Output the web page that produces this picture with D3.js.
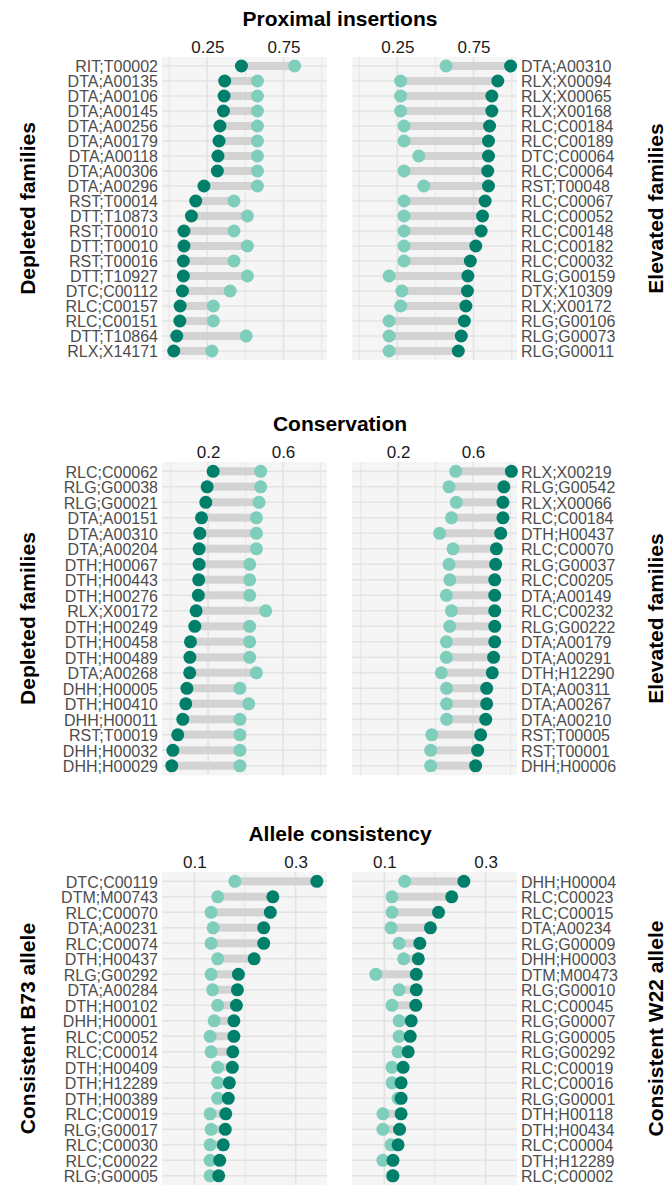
<!DOCTYPE html>
<html><head><meta charset="utf-8">
<script src="https://cdn.jsdelivr.net/npm/d3@7"></script>
<style>body{margin:0;background:#fff} svg{display:block}</style>
</head><body><svg id="c" width="668" height="1187"></svg>
<script>
// ---------- Proximal insertions ----------
const proxDepletedLabels = ["RIT;T00002","DTA;A00135","DTA;A00106","DTA;A00145","DTA;A00256","DTA;A00179","DTA;A00118","DTA;A00306","DTA;A00296","RST;T00014","DTT;T10873","RST;T00010","DTT;T00010","RST;T00016","DTT;T10927","DTC;C00112","RLC;C00157","RLC;C00151","DTT;T10864","RLX;X14171"];
const proxDepletedDark  = [0.474,0.364,0.360,0.356,0.333,0.327,0.320,0.316,0.228,0.174,0.146,0.097,0.097,0.093,0.093,0.087,0.072,0.070,0.050,0.030];
const proxDepletedLight = [0.823,0.579,0.579,0.579,0.579,0.579,0.579,0.579,0.579,0.425,0.513,0.425,0.513,0.425,0.513,0.400,0.290,0.290,0.505,0.280];
const proxElevatedLabels = ["DTA;A00310","RLX;X00094","RLX;X00065","RLX;X00168","RLC;C00184","RLC;C00189","DTC;C00064","RLC;C00064","RST;T00048","RLC;C00067","RLC;C00052","RLC;C00148","RLC;C00182","RLC;C00032","RLG;G00159","DTX;X10309","RLX;X00172","RLG;G00106","RLG;G00073","RLG;G00011"];
const proxElevatedDark  = [0.993,0.909,0.870,0.870,0.855,0.848,0.848,0.843,0.848,0.826,0.809,0.800,0.765,0.729,0.713,0.710,0.700,0.690,0.670,0.650];
const proxElevatedLight = [0.570,0.272,0.272,0.272,0.294,0.294,0.391,0.294,0.424,0.294,0.294,0.294,0.294,0.294,0.196,0.280,0.272,0.196,0.196,0.196];
const proxTicks = [0.25, 0.75];
const proxMinor = [0, 0.5, 1.0];

// ---------- Conservation ----------
const consDepletedLabels = ["RLC;C00062","RLG;G00038","RLG;G00021","DTA;A00151","DTA;A00310","DTA;A00204","DTH;H00067","DTH;H00443","DTH;H00276","RLX;X00172","DTH;H00249","DTH;H00458","DTH;H00489","DTA;A00268","DHH;H00005","DTH;H00410","DHH;H00011","RST;T00019","DHH;H00032","DHH;H00029"];
const consDepletedDark  = [0.227,0.195,0.188,0.165,0.156,0.152,0.152,0.150,0.148,0.136,0.129,0.106,0.103,0.102,0.087,0.081,0.065,0.038,0.012,0.006];
const consDepletedLight = [0.481,0.481,0.472,0.458,0.458,0.458,0.422,0.422,0.422,0.508,0.422,0.422,0.422,0.458,0.370,0.417,0.370,0.370,0.370,0.370];
const consElevatedLabels = ["RLX;X00219","RLG;G00542","RLX;X00066","RLC;C00184","DTH;H00437","RLC;C00070","RLG;G00037","RLC;C00205","DTA;A00149","RLC;C00232","RLG;G00222","DTA;A00179","DTA;A00291","DTH;H12290","DTA;A00311","DTA;A00267","DTA;A00210","RST;T00005","RST;T00001","DHH;H00006"];
const consElevatedDark  = [0.805,0.765,0.760,0.760,0.748,0.725,0.721,0.716,0.716,0.716,0.716,0.716,0.710,0.703,0.673,0.673,0.668,0.641,0.625,0.614];
const consElevatedLight = [0.508,0.472,0.511,0.485,0.422,0.493,0.472,0.476,0.458,0.485,0.476,0.458,0.458,0.431,0.459,0.459,0.459,0.380,0.374,0.374];
const consTicks = [0.2, 0.6];
const consMinor = [0, 0.4, 0.8];

// ---------- Allele consistency ----------
const alleleB73Labels = ["DTC;C00119","DTM;M00743","RLC;C00070","DTA;A00231","RLC;C00074","DTH;H00437","RLG;G00292","DTA;A00284","DTH;H00102","DHH;H00001","RLC;C00052","RLC;C00014","DTH;H00409","DTH;H12289","DTH;H00389","RLC;C00019","RLG;G00017","RLC;C00030","RLC;C00022","RLG;G00005"];
const alleleB73Dark  = [0.342,0.255,0.250,0.237,0.237,0.218,0.187,0.185,0.183,0.178,0.178,0.176,0.175,0.169,0.167,0.162,0.161,0.157,0.150,0.148];
const alleleB73Light = [0.180,0.146,0.133,0.137,0.133,0.146,0.133,0.136,0.146,0.139,0.131,0.133,0.146,0.146,0.146,0.131,0.133,0.131,0.131,0.131];
const alleleW22Labels = ["DHH;H00004","RLC;C00023","RLC;C00015","DTA;A00234","RLG;G00009","DHH;H00003","DTM;M00473","RLG;G00010","RLC;C00045","RLG;G00007","RLG;G00005","RLG;G00292","RLC;C00019","RLC;C00016","RLG;G00001","DTH;H00118","DTH;H00434","RLC;C00004","DTH;H12289","RLC;C00002"];
const alleleW22Dark  = [0.257,0.233,0.207,0.191,0.170,0.167,0.163,0.163,0.162,0.153,0.151,0.147,0.137,0.133,0.133,0.133,0.130,0.127,0.117,0.117];
const alleleW22Light = [0.140,0.115,0.115,0.113,0.129,0.138,0.083,0.129,0.115,0.129,0.129,0.127,0.115,0.115,0.127,0.097,0.097,0.113,0.097,0.115];
const alleleTicks = [0.1, 0.3];
const alleleMinor = [0.2];

const sections = [
  {title:"Proximal insertions", top:0, step:15.0, domain:[-0.047,1.035], ticks:proxTicks, minor:proxMinor, fmt:d3.format(".2f"),
   leftTitle:"Depleted families", rightTitle:"Elevated families",
   left:{labels:proxDepletedLabels, dark:proxDepletedDark, light:proxDepletedLight},
   right:{labels:proxElevatedLabels, dark:proxElevatedDark, light:proxElevatedLight}},
  {title:"Conservation", top:405, step:15.5, domain:[-0.046,0.835], ticks:consTicks, minor:consMinor, fmt:d3.format(".1f"),
   leftTitle:"Depleted families", rightTitle:"Elevated families",
   left:{labels:consDepletedLabels, dark:consDepletedDark, light:consDepletedLight},
   right:{labels:consElevatedLabels, dark:consElevatedDark, light:consElevatedLight}},
  {title:"Allele consistency", top:815, step:15.5, domain:[0.036,0.362], ticks:alleleTicks, minor:alleleMinor, fmt:d3.format(".1f"),
   leftTitle:"Consistent B73 allele", rightTitle:"Consistent W22 allele",
   left:{labels:alleleB73Labels, dark:alleleB73Dark, light:alleleB73Light},
   right:{labels:alleleW22Labels, dark:alleleW22Dark, light:alleleW22Light}}
];

const svg = d3.select("#c");
const FONT = "'Liberation Sans', Arial, Helvetica, sans-serif";
const DARK = "#00806b", LIGHT = "#7fcdbb", SEG = "#d3d3d3";
const panelW = 165;
const leftX = 162, rightX = 352;

sections.forEach(sec => {
  const g = svg.append("g");
  const panelTop = sec.top + 57;
  const panelH = sec.step * 20.2;
  // title
  g.append("text").attr("x", 340).attr("y", sec.top + 26)
    .attr("text-anchor","middle").attr("font-family",FONT).attr("font-weight","bold")
    .attr("font-size",21).attr("fill","#000").text(sec.title);

  [["left", leftX], ["right", rightX]].forEach(([side, x0]) => {
    const d = sec[side];
    const x = d3.scaleLinear().domain(sec.domain).range([x0, x0 + panelW]);
    const y = d3.scalePoint().domain(d.labels).range([panelTop, panelTop + panelH]).padding(0.6);
    const p = g.append("g");
    p.append("rect").attr("x", x0).attr("y", panelTop).attr("width", panelW).attr("height", panelH).attr("fill","#f5f5f5");
    // minor vertical grid
    p.selectAll(".mn").data(sec.minor.filter(v => v >= sec.domain[0] && v <= sec.domain[1])).join("line")
      .attr("x1", v => x(v)).attr("x2", v => x(v)).attr("y1", panelTop).attr("y2", panelTop + panelH)
      .attr("stroke","#e8e8e8").attr("stroke-width",1.2);
    // major vertical grid
    p.selectAll(".mj").data(sec.ticks).join("line")
      .attr("x1", v => x(v)).attr("x2", v => x(v)).attr("y1", panelTop).attr("y2", panelTop + panelH)
      .attr("stroke","#e3e3e3").attr("stroke-width",1.6);
    // horizontal grid
    p.selectAll(".hg").data(d.labels).join("line")
      .attr("x1", x0).attr("x2", x0 + panelW).attr("y1", l => y(l)).attr("y2", l => y(l))
      .attr("stroke","#e3e3e3").attr("stroke-width",1.6);
    // x axis tick labels (top)
    const ax = p.append("g").attr("transform", `translate(0,${panelTop - 4})`)
      .call(d3.axisTop(x).tickValues(sec.ticks).tickFormat(sec.fmt).tickSize(0).tickPadding(0));
    ax.select(".domain").remove();
    ax.selectAll("text").attr("font-family",FONT).attr("font-size",17).attr("fill","#1a1a1a");
    // y axis labels
    const ay = p.append("g")
      .attr("transform", side === "left" ? `translate(${x0 - 4},0)` : `translate(${x0 + panelW + 4},0)`)
      .call((side === "left" ? d3.axisLeft(y) : d3.axisRight(y)).tickSize(0).tickPadding(0));
    ay.select(".domain").remove();
    ay.selectAll("text").attr("font-family",FONT).attr("font-size",16).attr("fill","#4d4d4d").attr("dy","0.36em");
    // segments
    const rows = d.labels.map((l, i) => ({l, a: d.dark[i], b: d.light[i]}));
    p.selectAll(".seg").data(rows).join("line")
      .attr("x1", r => x(Math.min(r.a, r.b))).attr("x2", r => x(Math.max(r.a, r.b)))
      .attr("y1", r => y(r.l)).attr("y2", r => y(r.l))
      .attr("stroke", SEG).attr("stroke-width", 8);
    p.selectAll(".lt").data(rows).join("circle")
      .attr("cx", r => x(r.b)).attr("cy", r => y(r.l)).attr("r", 6.5).attr("fill", LIGHT);
    p.selectAll(".dk").data(rows).join("circle")
      .attr("cx", r => x(r.a)).attr("cy", r => y(r.l)).attr("r", 6.5).attr("fill", DARK);
  });

  // side titles
  const cy = panelTop + panelH / 2;
  g.append("text").attr("transform", `translate(27,${cy}) rotate(-90)`).attr("text-anchor","middle")
    .attr("dy","0.36em").attr("font-family",FONT).attr("font-weight","bold").attr("font-size",21).text(sec.leftTitle);
  g.append("text").attr("transform", `translate(655,${cy}) rotate(-90)`).attr("text-anchor","middle")
    .attr("dy","0.36em").attr("font-family",FONT).attr("font-weight","bold").attr("font-size",21).text(sec.rightTitle);
});
</script></body></html>
